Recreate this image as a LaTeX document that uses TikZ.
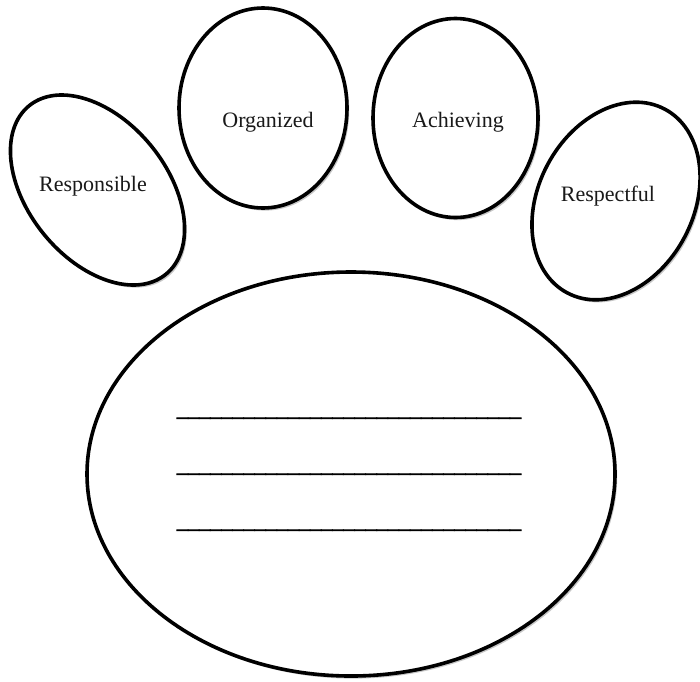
\documentclass[tikz,border=0pt]{standalone}
\usepackage{fontspec}
\setmainfont{Liberation Serif}
\newfontfamily\blankfont[FakeBold=3]{Liberation Serif}
\usetikzlibrary{shapes.geometric,shadows}
\tikzset{
  toe/.style={ellipse, draw=black, line width=3.6pt, fill=white, inner sep=0pt,
    drop shadow={shadow xshift=2.2pt, shadow yshift=-2.6pt, fill=black!22, opacity=1}},
  lbl/.style={font=\fontsize{22}{26}\selectfont, inner sep=0pt, text=black!90},
  blank/.style={font=\blankfont\fontsize{22.2}{26}\selectfont, inner sep=0pt, anchor=base}
}
\begin{document}
\begin{tikzpicture}[x=1pt,y=-1pt]
\useasboundingbox (0,0) rectangle (700,681);
% toes
\node[toe, minimum width=139pt, minimum height=217pt, rotate=39] (resp) at (97.5,190) {};
\node[toe, minimum width=168pt, minimum height=200pt] (org) at (263,108) {};
\node[toe, minimum width=165pt, minimum height=199pt] (ach) at (455.5,118) {};
\node[toe, minimum width=155pt, minimum height=208pt, rotate=-28] (respf) at (616,201) {};
% pad
\node[toe, minimum width=528pt, minimum height=404pt] (pad) at (351,474) {};
% labels
\node[lbl] (tresp) at (93,186) {Responsible};
\node[lbl] (torg) at (268,122) {Organized};
\node[lbl] (tach) at (458,122) {Achieving};
\node[lbl] (trespf) at (608,196) {Respectful};
% blank lines
\node[blank] (l1) at (349,416) {\_\_\_\_\_\_\_\_\_\_\_\_\_\_\_\_\_\_\_\_\_\_\_\_\_\_\_\_\_\_\_};
\node[blank] (l2) at (349,472) {\_\_\_\_\_\_\_\_\_\_\_\_\_\_\_\_\_\_\_\_\_\_\_\_\_\_\_\_\_\_\_};
\node[blank] (l3) at (349,528) {\_\_\_\_\_\_\_\_\_\_\_\_\_\_\_\_\_\_\_\_\_\_\_\_\_\_\_\_\_\_\_};
\end{tikzpicture}
\end{document}
